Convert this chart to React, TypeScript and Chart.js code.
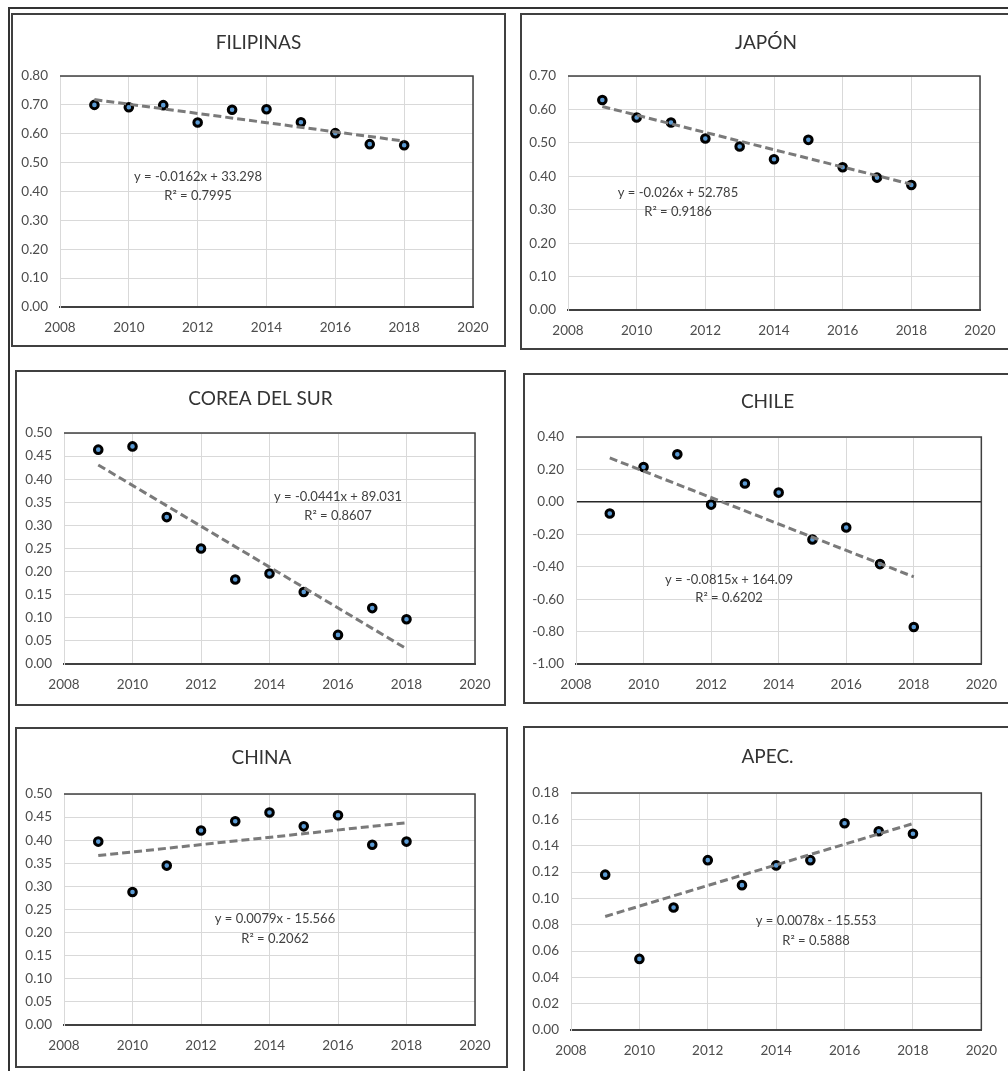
import React, { useEffect, useRef } from "react";
import { Chart, registerables } from "chart.js";

Chart.register(...registerables);

// ---------------- DATA ----------------
const years = [2009, 2010, 2011, 2012, 2013, 2014, 2015, 2016, 2017, 2018];

const filipinas = [0.700, 0.692, 0.699, 0.639, 0.683, 0.685, 0.640, 0.602, 0.564, 0.560];
const japon = [0.628, 0.576, 0.561, 0.513, 0.489, 0.451, 0.509, 0.427, 0.396, 0.374];
const coreaDelSur = [0.464, 0.471, 0.318, 0.250, 0.183, 0.196, 0.156, 0.063, 0.121, 0.097];
const chile = [-0.072, 0.215, 0.293, -0.017, 0.113, 0.057, -0.232, -0.158, -0.384, -0.772];
const china = [0.397, 0.288, 0.345, 0.421, 0.441, 0.460, 0.430, 0.454, 0.390, 0.397];
const apec = [0.118, 0.054, 0.093, 0.129, 0.110, 0.125, 0.129, 0.157, 0.151, 0.149];

const seriesValues = [filipinas, japon, coreaDelSur, chile, china, apec];

const titles = ["FILIPINAS", "JAPÓN", "COREA DEL SUR", "CHILE", "CHINA", "APEC."];
const equations = [
  "y = -0.0162x + 33.298",
  "y = -0.026x + 52.785",
  "y = -0.0441x + 89.031",
  "y = -0.0815x + 164.09",
  "y = 0.0079x - 15.566",
  "y = 0.0078x - 15.553",
];
const rSquared = ["R² = 0.7995", "R² = 0.9186", "R² = 0.8607", "R² = 0.6202", "R² = 0.2062", "R² = 0.5888"];

const xMin = 2008;
const xMax = 2020;
const xStep = 2;
const yMins = [0, 0, 0, -1, 0, 0];
const yMaxs = [0.8, 0.7, 0.5, 0.4, 0.5, 0.18];
const ySteps = [0.1, 0.1, 0.05, 0.2, 0.05, 0.02];

// ---------------- LAYOUT (page pixels) ----------------
type Layout = {
  frame: [number, number, number, number]; // x, y, w, h
  plot: [number, number, number, number]; // left, top, right, bottom
  titleY: number;
  eq: [number, number, number]; // center x, line1 y, line2 y
};

const layouts: Layout[] = [
  { frame: [11, 13, 495, 334], plot: [60, 76, 473, 307], titleY: 43, eq: [198, 177, 196] },
  { frame: [520, 13, 492, 337], plot: [568, 76, 980, 310], titleY: 43, eq: [678, 193, 212] },
  { frame: [15, 370, 491, 336], plot: [64, 433, 475, 664], titleY: 399, eq: [338, 497, 516] },
  { frame: [523, 373, 489, 331], plot: [576, 437, 982, 664], titleY: 402, eq: [729, 580, 598] },
  { frame: [15, 727, 493, 341], plot: [64, 794, 475, 1025], titleY: 758, eq: [275, 919, 939] },
  { frame: [523, 726, 489, 349], plot: [571, 793, 982, 1030], titleY: 757, eq: [816, 921, 941] },
];

const FONT = "Lato, 'Noto Sans', 'DejaVu Sans', sans-serif";
const BORDER = 2;
const X_AXIS_H = 30;

function linearTrend(xs: number[], ys: number[]) {
  const n = xs.length;
  const mx = xs.reduce((a, b) => a + b, 0) / n;
  const my = ys.reduce((a, b) => a + b, 0) / n;
  let sxy = 0;
  let sxx = 0;
  for (let i = 0; i < n; i++) {
    sxy += (xs[i] - mx) * (ys[i] - my);
    sxx += (xs[i] - mx) * (xs[i] - mx);
  }
  const slope = sxy / sxx;
  const b = my - slope * mx;
  const x0 = xs[0];
  const x1 = xs[n - 1];
  return [
    { x: x0, y: slope * x0 + b },
    { x: x1, y: slope * x1 + b },
  ];
}

function Panel({ idx }: { idx: number }) {
  const ref = useRef<HTMLCanvasElement | null>(null);
  const L = layouts[idx];
  const [fx, fy, fw, fh] = L.frame;
  const cw = fw - 2 * BORDER;
  const ch = fh - 2 * BORDER;
  const cx = fx + BORDER;
  const cy = fy + BORDER;

  useEffect(() => {
    if (!ref.current) return;
    const vals = seriesValues[idx];
    const [pl, pt, pr, pb] = L.plot;
    const yAxisW = pl - cx;
    const padding = {
      left: 0,
      top: pt - cy,
      right: cx + cw - pr,
      bottom: cy + ch - pb - X_AXIS_H,
    };
    const yMin = yMins[idx];
    const hasNeg = yMin < 0;

    const framePlugin = {
      id: "plotFrame" + idx,
      beforeDatasetsDraw(chart: any) {
        const { ctx, chartArea } = chart;
        ctx.save();
        ctx.strokeStyle = "#404040";
        ctx.lineWidth = 1.5;
        ctx.beginPath();
        ctx.moveTo(chartArea.left, chartArea.top);
        ctx.lineTo(chartArea.right, chartArea.top);
        ctx.lineTo(chartArea.right, chartArea.bottom);
        ctx.stroke();
        ctx.restore();
      },
    };

    const textPlugin = {
      id: "texts" + idx,
      afterDraw(chart: any) {
        const { ctx } = chart;
        ctx.save();
        ctx.textAlign = "center";
        ctx.textBaseline = "middle";
        ctx.fillStyle = "#333333";
        ctx.font = `19px ${FONT}`;
        ctx.fillText(titles[idx], cw / 2, L.titleY - cy);
        ctx.fillStyle = "#404040";
        ctx.font = `13px ${FONT}`;
        ctx.fillText(equations[idx], L.eq[0] - cx, L.eq[1] - cy);
        ctx.fillText(rSquared[idx], L.eq[0] - cx, L.eq[2] - cy);
        ctx.restore();
      },
    };

    const chart = new Chart(ref.current, {
      type: "scatter",
      data: {
        datasets: [
          {
            data: linearTrend(years, vals),
            showLine: true,
            borderColor: "#7a7a7a",
            borderWidth: 3,
            borderDash: [8, 4],
            pointRadius: 0,
            fill: false,
            order: 0,
          } as any,
          {
            data: years.map((x, i) => ({ x, y: vals[i] })),
            showLine: false,
            pointRadius: 3.8,
            pointBorderWidth: 3,
            backgroundColor: "#5b9bd5",
            borderColor: "#000000",
            order: 1,
          } as any,
        ],
      },
      options: {
        animation: false,
        responsive: false,
        maintainAspectRatio: false,
        events: [],
        layout: { padding },
        plugins: {
          legend: { display: false },
          tooltip: { enabled: false },
          title: { display: false },
        },
        scales: {
          x: {
            type: "linear",
            min: xMin,
            max: xMax,
            ticks: {
              stepSize: xStep,
              autoSkip: false,
              maxRotation: 0,
              padding: 13,
              color: "#4d4d4d",
              font: { family: FONT, size: 13.5 },
              callback: (v: any) => String(v),
            },
            grid: { color: "#d9d9d9", lineWidth: 1, drawTicks: false },
            border: { display: true, color: "#404040", width: 2 },
            afterFit: (s: any) => {
              s.height = X_AXIS_H;
            },
          },
          y: {
            type: "linear",
            min: yMin,
            max: yMaxs[idx],
            ticks: {
              stepSize: ySteps[idx],
              autoSkip: false,
              padding: 12,
              color: "#4d4d4d",
              font: { family: FONT, size: 13.5 },
              callback: (v: any) => {
                const n = Number(v);
                return (Math.abs(n) < 1e-9 ? 0 : n).toFixed(2);
              },
            },
            grid: {
              drawTicks: false,
              color: (c: any) =>
                hasNeg && c.tick && Math.abs(c.tick.value) < 1e-9 ? "#262626" : "#d9d9d9",
              lineWidth: (c: any) =>
                hasNeg && c.tick && Math.abs(c.tick.value) < 1e-9 ? 1.5 : 1,
            },
            border: { display: true, color: "#d9d9d9", width: 1 },
            afterFit: (s: any) => {
              s.width = yAxisW;
            },
          },
        },
      } as any,
      plugins: [framePlugin, textPlugin],
    });
    return () => chart.destroy();
  }, [idx]);

  return (
    <div
      style={{
        position: "absolute",
        left: fx,
        top: fy,
        width: fw,
        height: fh,
        boxSizing: "border-box",
        border: `${BORDER}px solid #404040`,
        background: "#ffffff",
      }}
    >
      <canvas
        ref={ref}
        width={cw}
        height={ch}
        style={{ position: "absolute", left: 0, top: 0, width: cw, height: ch, display: "block" }}
      />
    </div>
  );
}

export default function App() {
  return (
    <div
      style={{
        position: "fixed",
        left: 0,
        top: 0,
        width: 1008,
        height: 1071,
        overflow: "hidden",
        background: "#ffffff",
      }}
    >
      <div
        style={{
          position: "absolute",
          left: 8,
          top: 7,
          width: 1100,
          height: 1100,
          borderTop: "2px solid #333333",
          borderLeft: "2px solid #333333",
        }}
      />
      {layouts.map((_, i) => (
        <Panel key={i} idx={i} />
      ))}
    </div>
  );
}
